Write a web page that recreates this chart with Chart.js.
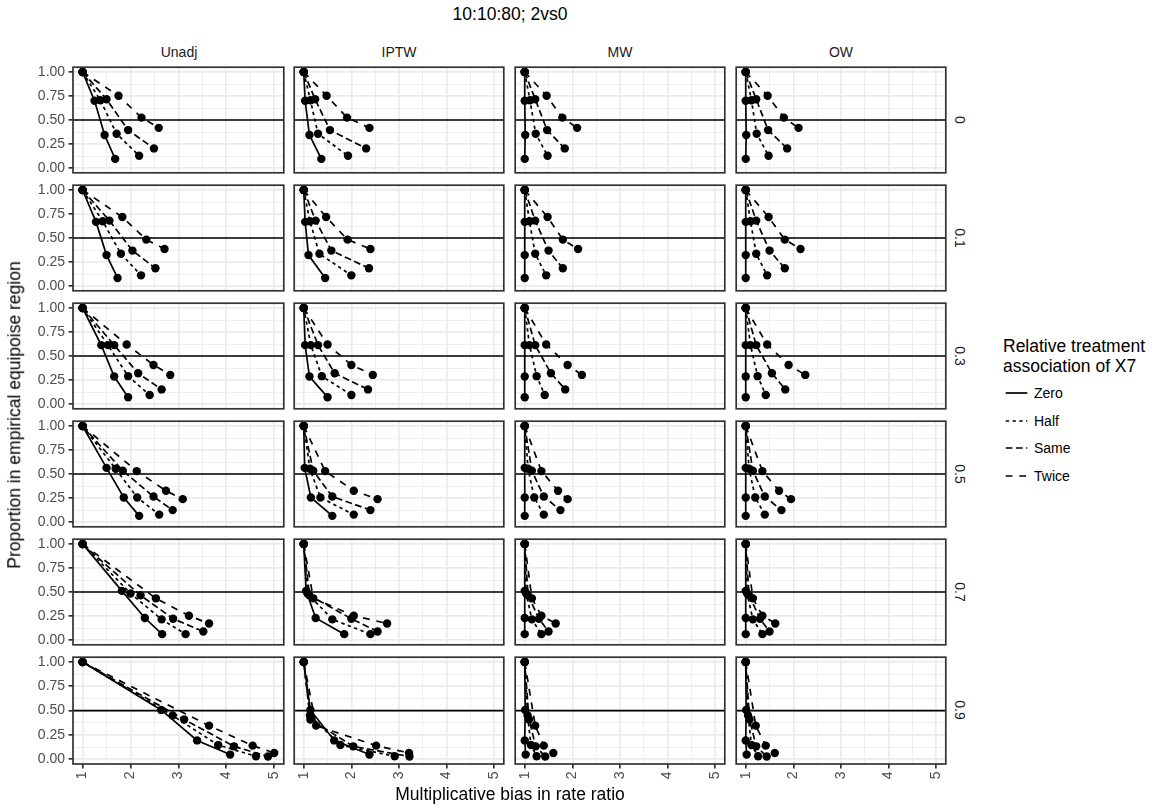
<!DOCTYPE html>
<html lang="en">
<head>
<meta charset="UTF-8">
<title>10:10:80; 2vs0</title>
<script src="https://cdn.jsdelivr.net/npm/chart.js"></script>
<style>
  body { margin: 0; background: #fff; }
  #wrap { position: relative; width: 1152px; height: 810px; overflow: hidden;
          font-family: "Liberation Sans", Arial, Helvetica, sans-serif; }
  .panel { position: absolute; }
  .txt { position: absolute; white-space: nowrap; line-height: 1; }
</style>
</head>
<body>
<div id="wrap"></div>
<script>
// ---- data ----
const methods = ['Unadj', 'IPTW', 'MW', 'OW'];
const rowLabels = ['0', '0.1', '0.3', '0.5', '0.7', '0.9'];
const seriesNames = ['Zero', 'Half', 'Same', 'Twice'];
const xTicks = [1, 2, 3, 4, 5];
const yTicks = [0, 0.25, 0.5, 0.75, 1];
const xGridLines = [1, 1.5, 2, 2.5, 3, 3.5, 4, 4.5, 5];
const yGridLines = [0, 0.125, 0.25, 0.375, 0.5, 0.625, 0.75, 0.875, 1];
const refLevel = 0.5;

// proportion in empirical equipoise region, per row -> [Zero, Half, Same, Twice]
const propByRow = [
  [[1, 0.700, 0.344, 0.095], [1, 0.706, 0.357, 0.127], [1, 0.716, 0.395, 0.204], [1, 0.752, 0.525, 0.418]],
  [[1, 0.668, 0.322, 0.084], [1, 0.674, 0.336, 0.111], [1, 0.681, 0.369, 0.185], [1, 0.718, 0.483, 0.386]],
  [[1, 0.613, 0.286, 0.071], [1, 0.613, 0.290, 0.094], [1, 0.613, 0.320, 0.152], [1, 0.620, 0.407, 0.303]],
  [[1, 0.564, 0.255, 0.064], [1, 0.554, 0.255, 0.077], [1, 0.534, 0.265, 0.124], [1, 0.530, 0.326, 0.238]],
  [[1, 0.512, 0.229, 0.061], [1, 0.485, 0.215, 0.061], [1, 0.465, 0.222, 0.088], [1, 0.434, 0.253, 0.172]],
  [[1, 0.507, 0.193, 0.047], [1, 0.449, 0.145, 0.030], [1, 0.409, 0.132, 0.027], [1, 0.345, 0.139, 0.064]]
];

// multiplicative bias in rate ratio, per row -> [Zero, Half, Same, Twice]
const biasUnadj = [
  [[1, 1.25, 1.46, 1.68], [1, 1.37, 1.71, 2.18], [1, 1.50, 1.95, 2.49], [1, 1.75, 2.23, 2.59]],
  [[1, 1.28, 1.50, 1.73], [1, 1.42, 1.80, 2.22], [1, 1.56, 2.04, 2.52], [1, 1.83, 2.33, 2.71]],
  [[1, 1.39, 1.66, 1.95], [1, 1.53, 1.95, 2.40], [1, 1.66, 2.16, 2.65], [1, 1.92, 2.48, 2.83]],
  [[1, 1.50, 1.86, 2.18], [1, 1.69, 2.14, 2.60], [1, 1.84, 2.48, 2.88], [1, 2.13, 2.74, 3.09]],
  [[1, 1.82, 2.30, 2.66], [1, 2.00, 2.65, 3.15], [1, 2.21, 2.89, 3.52], [1, 2.53, 3.22, 3.64]],
  [[1, 2.64, 3.39, 4.08], [1, 2.88, 3.83, 4.62], [1, 3.12, 4.16, 4.87], [1, 3.64, 4.55, 5.00]]
];
const biasIPTW = [
  [[1, 1.03, 1.12, 1.37], [1, 1.14, 1.30, 1.93], [1, 1.24, 1.55, 2.31], [1, 1.48, 1.91, 2.38]],
  [[1, 1.03, 1.10, 1.45], [1, 1.13, 1.33, 2.00], [1, 1.25, 1.58, 2.37], [1, 1.47, 1.92, 2.40]],
  [[1, 1.03, 1.12, 1.50], [1, 1.15, 1.38, 2.00], [1, 1.30, 1.65, 2.35], [1, 1.50, 2.00, 2.45]],
  [[1, 1.02, 1.15, 1.60], [1, 1.13, 1.35, 2.05], [1, 1.20, 1.60, 2.40], [1, 1.45, 2.05, 2.55]],
  [[1, 1.05, 1.25, 1.85], [1, 1.08, 1.60, 2.40], [1, 1.12, 2.00, 2.55], [1, 1.20, 2.05, 2.75]],
  [[1, 1.14, 1.64, 2.38], [1, 1.13, 1.77, 2.91], [1, 1.14, 2.04, 3.22], [1, 1.26, 2.52, 3.21]]
];
const biasMW = [
  [[1, 1.00, 1.01, 1.00], [1, 1.11, 1.23, 1.48], [1, 1.22, 1.47, 1.84], [1, 1.46, 1.79, 2.10]],
  [[1, 1.00, 1.00, 1.00], [1, 1.10, 1.22, 1.45], [1, 1.22, 1.50, 1.80], [1, 1.48, 1.80, 2.12]],
  [[1, 1.00, 1.00, 1.00], [1, 1.10, 1.25, 1.42], [1, 1.22, 1.55, 1.85], [1, 1.45, 1.90, 2.20]],
  [[1, 1.00, 1.00, 1.00], [1, 1.07, 1.20, 1.40], [1, 1.15, 1.40, 1.75], [1, 1.35, 1.70, 1.90]],
  [[1, 1.00, 1.00, 1.00], [1, 1.03, 1.15, 1.35], [1, 1.07, 1.30, 1.50], [1, 1.15, 1.35, 1.65]],
  [[1, 1.01, 1.00, 1.02], [1, 1.06, 1.13, 1.25], [1, 1.09, 1.23, 1.43], [1, 1.22, 1.40, 1.60]]
];
const biasOW = [
  [[1, 1.00, 1.01, 1.00], [1, 1.12, 1.23, 1.48], [1, 1.22, 1.47, 1.87], [1, 1.46, 1.80, 2.11]],
  [[1, 1.00, 1.00, 1.00], [1, 1.10, 1.22, 1.45], [1, 1.22, 1.50, 1.82], [1, 1.48, 1.82, 2.15]],
  [[1, 1.00, 1.00, 1.00], [1, 1.10, 1.25, 1.42], [1, 1.22, 1.55, 1.83], [1, 1.45, 1.90, 2.25]],
  [[1, 1.00, 1.00, 1.00], [1, 1.07, 1.20, 1.40], [1, 1.15, 1.40, 1.75], [1, 1.35, 1.70, 1.95]],
  [[1, 1.00, 1.00, 1.00], [1, 1.03, 1.15, 1.35], [1, 1.07, 1.30, 1.50], [1, 1.15, 1.35, 1.62]],
  [[1, 1.01, 1.00, 1.02], [1, 1.05, 1.12, 1.26], [1, 1.08, 1.22, 1.44], [1, 1.21, 1.42, 1.61]]
];
const biasByMethod = [biasUnadj, biasIPTW, biasMW, biasOW];

// ---- layout / style ----
const FONT = '"Liberation Sans", Arial, Helvetica, sans-serif';
const colLeft = [73, 293, 514, 735];
const rowTop = [66, 184, 302, 420, 538, 656];
const panelW = 212, panelH = 108;
const PAD = 3, YAX = 50, XAX = 30;
const LW = 1.7;
const dashes = [[], [3.4, 3.4], [6.8, 3.4], [6.8, 6.8]];

const wrap = document.getElementById('wrap');

function addText(str, cx, cy, size, color, rot) {
  const d = document.createElement('div');
  d.className = 'txt';
  d.textContent = str;
  d.style.left = cx + 'px';
  d.style.top = cy + 'px';
  d.style.fontSize = size + 'px';
  d.style.color = color;
  d.style.transform = 'translate(-50%,-50%)' + (rot ? ' rotate(' + rot + 'deg)' : '');
  wrap.appendChild(d);
  return d;
}

// panel border + reference line at 0.5
const framePlugin = {
  id: 'frame',
  beforeDatasetsDraw(chart) {
    const { ctx, chartArea: a, scales } = chart;
    const py = scales.y.getPixelForValue(refLevel);
    ctx.save();
    ctx.strokeStyle = '#000';
    ctx.lineWidth = LW;
    ctx.beginPath();
    ctx.moveTo(a.left, py);
    ctx.lineTo(a.right, py);
    ctx.stroke();
    ctx.restore();
  },
  afterDraw(chart) {
    const { ctx, chartArea: a } = chart;
    ctx.save();
    ctx.strokeStyle = '#333333';
    ctx.lineWidth = LW;
    ctx.strokeRect(a.left, a.top, a.right - a.left, a.bottom - a.top);
    ctx.restore();
  }
};

function makePanel(r, c) {
  const showY = c === 0;
  const showX = r === rowLabels.length - 1;
  const cv = document.createElement('canvas');
  cv.className = 'panel';
  cv.width = panelW + 2 * PAD + (showY ? YAX : 0);
  cv.height = panelH + 2 * PAD + (showX ? XAX : 0);
  cv.style.left = (colLeft[c] - PAD - (showY ? YAX : 0)) + 'px';
  cv.style.top = (rowTop[r] - PAD) + 'px';
  wrap.appendChild(cv);

  const bias = biasByMethod[c][r];
  const prop = propByRow[r];

  new Chart(cv, {
    type: 'scatter',
    data: {
      datasets: seriesNames.map((name, i) => ({
        label: name,
        data: bias[i].map((x, k) => ({ x: x, y: prop[i][k] })),
        showLine: true,
        borderColor: '#000',
        borderWidth: LW,
        borderDash: dashes[i],
        pointRadius: 4.2,
        pointHoverRadius: 4.2,
        pointBackgroundColor: '#000',
        pointBorderWidth: 0
      }))
    },
    options: {
      responsive: false,
      animation: false,
      events: [],
      layout: { padding: PAD },
      plugins: { legend: { display: false }, tooltip: { enabled: false } },
      scales: {
        x: {
          type: 'linear', min: 0.8, max: 5.2,
          afterBuildTicks: s => { s.ticks = xGridLines.map(v => ({ value: v })); },
          afterFit: s => {
            s.height = showX ? XAX : 0;
            s.paddingLeft = 0; s.paddingRight = 0;
          },
          border: { display: false },
          grid: {
            color: '#ebebeb',
            lineWidth: ctx => (ctx.tick && xTicks.includes(ctx.tick.value)) ? LW : LW / 2,
            drawTicks: showX,
            tickLength: 4.4,
            tickWidth: LW,
            tickColor: ctx => (ctx.tick && xTicks.includes(ctx.tick.value)) ? '#333333' : 'rgba(0,0,0,0)'
          },
          ticks: {
            display: showX, autoSkip: false, minRotation: 90, maxRotation: 90, padding: 3,
            color: '#4d4d4d', font: { family: FONT, size: 14 },
            callback: v => xTicks.includes(v) ? String(v) : ''
          }
        },
        y: {
          type: 'linear', min: -0.05, max: 1.05,
          afterBuildTicks: s => { s.ticks = yGridLines.map(v => ({ value: v })); },
          afterFit: s => {
            s.width = showY ? YAX : 0;
            s.paddingTop = 0; s.paddingBottom = 0;
          },
          border: { display: false },
          grid: {
            color: '#ebebeb',
            lineWidth: ctx => (ctx.tick && yTicks.includes(ctx.tick.value)) ? LW : LW / 2,
            drawTicks: showY,
            tickLength: 4.4,
            tickWidth: LW,
            tickColor: ctx => (ctx.tick && yTicks.includes(ctx.tick.value)) ? '#333333' : 'rgba(0,0,0,0)'
          },
          ticks: {
            display: showY, autoSkip: false, padding: 3.5,
            color: '#4d4d4d', font: { family: FONT, size: 14 },
            callback: v => yTicks.includes(v) ? v.toFixed(2) : ''
          }
        }
      }
    },
    plugins: [framePlugin]
  });
}

for (let r = 0; r < rowLabels.length; r++) {
  for (let c = 0; c < methods.length; c++) makePanel(r, c);
}

// ---- strips, titles ----
methods.forEach((m, c) => addText(m, colLeft[c] + panelW / 2, 52, 14, '#1a1a1a'));
rowLabels.forEach((lab, r) => addText(lab, 960, rowTop[r] + panelH / 2, 14, '#1a1a1a', 90));

const plotMidX = (colLeft[0] + colLeft[3] + panelW) / 2;
const plotMidY = (rowTop[0] + rowTop[5] + panelH) / 2;
addText('10:10:80; 2vs0', plotMidX, 15, 17.5, '#000');
addText('Multiplicative bias in rate ratio', plotMidX, 795, 17.5, '#000');
addText('Proportion in empirical equipoise region', 15, plotMidY, 17.5, '#000', -90);

// ---- legend ----
const lg = document.createElement('div');
lg.style.position = 'absolute';
lg.style.left = '1003px';
lg.style.top = '336px';
lg.style.color = '#000';
lg.innerHTML =
  '<div style="font-size:17.5px;line-height:20px">Relative treatment<br>association of X7</div>';
const keyTop = 383;
seriesNames.forEach((name, i) => {
  const row = document.createElement('div');
  row.style.position = 'absolute';
  row.style.left = '0px';
  row.style.top = (keyTop - 336 + i * 27.6) + 'px';
  row.style.height = '20px';
  row.style.width = '150px';
  const dash = dashes[i].length ? dashes[i].join(' ') : 'none';
  row.innerHTML =
    '<svg width="26" height="20" style="position:absolute;left:0;top:0">' +
    '<line x1="2.7" y1="10" x2="24.3" y2="10" stroke="#000" stroke-width="' + LW + '" stroke-dasharray="' + dash + '"/></svg>' +
    '<span style="position:absolute;left:31px;top:3px;font-size:14px;line-height:14px">' + name + '</span>';
  lg.appendChild(row);
});
wrap.appendChild(lg);
</script>
</body>
</html>
